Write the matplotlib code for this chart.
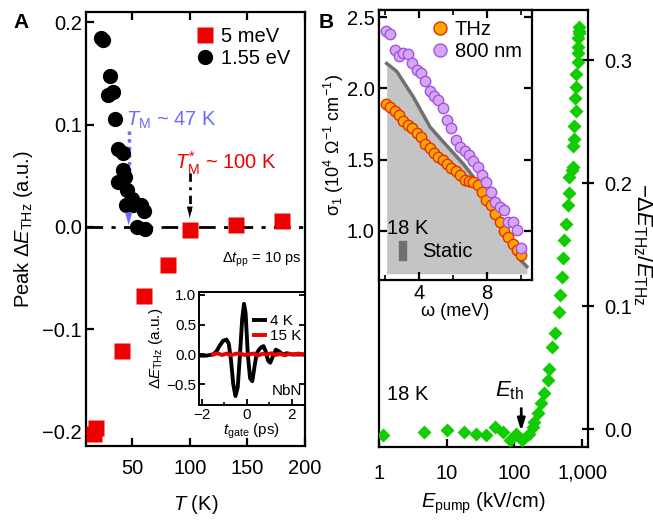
import numpy as np
import matplotlib
matplotlib.use("Agg")
import matplotlib.pyplot as plt
from matplotlib.patches import Patch

plt.rcParams['font.family'] = ['Liberation Sans', 'DejaVu Sans']
plt.rcParams['mathtext.fontset'] = 'custom'
plt.rcParams['mathtext.rm'] = 'Liberation Sans'
plt.rcParams['mathtext.it'] = 'Liberation Sans:italic'
plt.rcParams['mathtext.bf'] = 'Liberation Sans:bold'
plt.rcParams['axes.linewidth'] = 1.6

# ---- panel A data ----
T_ir = [23, 25, 31, 29, 33, 35, 37.6, 42, 42, 37.6, 43.6, 46, 49.6, 45, 50.5, 58, 60, 54, 61]
peak_ir = [0.185, 0.183, 0.147, 0.129, 0.132, 0.105, 0.076, 0.072, 0.056, 0.044, 0.049,
           0.036, 0.027, 0.021, 0.021, 0.021, 0.016, 0.0, -0.002]
T_thz = [17, 19, 41, 60, 81, 100, 140, 180]
peak_thz = [-0.202, -0.196, -0.121, -0.067, -0.037, -0.003, 0.002, 0.006]

# inset A: NbN waveforms
t_4K = [-2.1, -1.8, -1.5, -1.35, -1.2, -1.05, -0.9, -0.8, -0.7, -0.6, -0.5, -0.4, -0.3,
        -0.2, -0.12, -0.05, 0.05, 0.15, 0.25, 0.35, 0.45, 0.55, 0.65, 0.75, 0.85, 0.95,
        1.05, 1.15, 1.3, 1.45, 1.6, 1.8, 2.0, 2.3, 2.5]
dE_4K = [-0.02, -0.02, 0.0, 0.05, 0.15, 0.23, 0.25, 0.18, -0.1, -0.5, -0.7, -0.55, 0.0,
         0.6, 0.85, 0.7, 0.0, -0.4, -0.45, -0.2, 0.02, 0.08, 0.12, 0.14, 0.05, -0.1,
         -0.14, -0.05, 0.08, 0.05, 0.0, 0.02, 0.0, 0.0, 0.0]
t_15K = [-1.5, -1.3, -1.1, -0.9, -0.7, -0.5, -0.3, -0.1, 0.1, 0.3, 0.5, 0.7, 0.9, 1.1,
         1.3, 1.5, 1.7, 1.9, 2.1, 2.3, 2.5]
dE_15K = [0.0, 0.02, -0.01, 0.015, -0.015, 0.01, 0.02, -0.01, 0.0, 0.015, -0.02, 0.01,
          0.0, 0.02, -0.01, 0.01, -0.015, 0.01, 0.0, 0.015, 0.0]

# ---- panel B data ----
E_pump = [1.16, 4.6, 10.1, 18, 27.3, 38.5, 52, 67, 84.7, 106, 130, 162, 190, 196, 220,
          246, 277, 310, 327, 359, 401, 450, 478, 505, 514, 545, 578, 609, 631, 646, 700,
          726, 726, 750, 766, 812, 792, 820, 812, 860, 860, 880, 880, 900, 905, 910]
dE_rel = [-0.005, -0.002, -0.001, -0.002, -0.004, -0.005, 0.002, -0.002, -0.009, -0.004,
          -0.009, -0.004, 0.002, 0.006, 0.013, 0.021, 0.029, 0.040, 0.049, 0.067, 0.078,
          0.095, 0.109, 0.124, 0.139, 0.154, 0.167, 0.182, 0.192, 0.205, 0.211, 0.213,
          0.230, 0.236, 0.247, 0.259, 0.269, 0.278, 0.289, 0.299, 0.306, 0.311, 0.318,
          0.322, 0.324, 0.327]

# inset B: optical conductivity
omega = [2.06, 2.32, 2.57, 2.83, 3.09, 3.34, 3.60, 3.86, 4.12, 4.37, 4.63, 4.89, 5.14,
         5.40, 5.66, 5.91, 6.17, 6.43, 6.69, 6.94, 7.20, 7.46, 7.71, 7.97, 8.23, 8.49,
         8.74, 9.00, 9.26, 9.51, 9.77, 10.03]
sig_thz = [1.89, 1.87, 1.84, 1.81, 1.77, 1.74, 1.72, 1.69, 1.66, 1.61, 1.58, 1.55, 1.52,
           1.50, 1.47, 1.44, 1.42, 1.39, 1.36, 1.35, 1.34, 1.32, 1.27, 1.22, 1.18, 1.12,
           1.06, 1.00, 0.96, 0.91, 0.87, 0.83]
sig_800 = [2.40, 2.38, 2.27, 2.23, 2.25, 2.24, 2.175, 2.13, 2.11, 2.05, 1.98, 1.95, 1.92,
           1.86, 1.78, 1.72, 1.64, 1.59, 1.56, 1.53, 1.49, 1.45, 1.39, 1.34, 1.27, 1.20,
           1.17, 1.15, 1.06, 1.06, 1.01, 0.88]
omega_static = [2.1, 2.69, 3.67, 4.65, 5.24, 6.61, 7.2, 7.79, 8.57, 9.36, 9.94, 10.35]
sig_static = [2.175, 2.12, 1.94, 1.73, 1.65, 1.47, 1.38, 1.26, 1.12, 0.96, 0.80, 0.75]

red = '#ee0000'
blue = '#6b6bff'
green = '#11cc00'
fs = 14.5

fig = plt.figure(figsize=(6.53, 5.2), dpi=100)

# ================= panel A =================
ax = fig.add_axes([0.1317, 0.1423, 0.3354, 0.8346])
ax.axhline(0, color='black', lw=2, dashes=(6, 3, 1.5, 3), zorder=1)
ax.plot(T_thz, peak_thz, 's', color=red, ms=11.5, mec='none', label='5 meV', zorder=3)
ax.plot(T_ir, peak_ir, 'o', color='black', ms=11, mec='none', label='1.55 eV', zorder=3)
ax.set_xlim(10, 200)
ax.set_ylim(-0.214, 0.21)
ax.set_xticks([50, 100, 150, 200])
ax.set_yticks([-0.2, -0.1, 0.0, 0.1, 0.2])
ax.set_yticklabels(['\u22120.2', '\u22120.1', '0.0', '0.1', '0.2'])
ax.tick_params(direction='in', labelsize=fs, length=6, width=1.6, top=True)
ax.tick_params(axis='x', pad=9)
ax.tick_params(axis='y', pad=3)
ax.set_xlabel('$T$ (K)', fontsize=fs, labelpad=11)
ax.set_ylabel('Peak Δ$E_{\\rm THz}$ (a.u.)', fontsize=fs, labelpad=5)
ax.legend(loc='upper right', bbox_to_anchor=(0.97, 0.985), frameon=False, fontsize=fs,
          handlelength=1.0, handletextpad=0.3, labelspacing=0.15, borderaxespad=0,
          numpoints=1)

# T_M arrow (blue, dotted)
ax.plot([47, 47], [0.094, 0.012], ls=(0, (1, 1.2)), color=blue, lw=2.5)
ax.annotate('', xy=(47, -0.001), xytext=(47, 0.014),
            arrowprops=dict(arrowstyle='-|>,head_width=0.25,head_length=0.9',
                            color=blue, lw=0.1))
ax.text(45, 0.104, '$T_{\\rm M}$ ~ 47 K', color=blue, fontsize=fs, va='center')
# T*_M arrow (black, dash-dot)
ax.plot([100, 100], [0.053, 0.016], color='black', lw=2, dashes=(3, 2, 1, 2))
ax.annotate('', xy=(100, 0.006), xytext=(100, 0.018),
            arrowprops=dict(arrowstyle='-|>,head_width=0.2,head_length=0.8',
                            color='black', lw=0.1))
ax.text(87, 0.062, '$T^{*}_{\\rm M}$ ~ 100 K', color=red, fontsize=fs, va='center')
ax.text(0.62, 0.43, 'Δ$t_{\\rm pp}$ = 10 ps', transform=ax.transAxes, fontsize=10.5,
        va='center')

# inset A
axi = fig.add_axes([0.3047, 0.2212, 0.1623, 0.2173])
axi.plot(t_4K, dE_4K, color='black', lw=2.8, label='4 K')
axi.plot(t_15K, dE_15K, color=red, lw=2.8, label='15 K')
axi.set_xlim(-2.13, 2.6)
axi.set_ylim(-0.85, 1.05)
axi.set_xticks([-2, 0, 2])
axi.set_xticklabels(['\u22122', '0', '2'])
axi.set_xticks([-1, 1], minor=True)
axi.set_yticks([-0.5, 0.0, 0.5, 1.0])
axi.set_yticklabels(['\u22120.5', '0.0', '0.5', '1.0'])
axi.tick_params(direction='in', labelsize=11, length=4, width=1.3, right=True, pad=2)
axi.tick_params(which='minor', direction='in', length=2.5, width=1.2)
for s in axi.spines.values():
    s.set_linewidth(1.4)
axi.set_xlabel('$t_{\\rm gate}$ (ps)', fontsize=11, labelpad=0)
axi.set_ylabel('Δ$E_{\\rm THz}$ (a.u.)', fontsize=11, labelpad=1)
axi.legend(loc='upper right', bbox_to_anchor=(1.02, 0.86), frameon=False, fontsize=11,
           handlelength=0.7, handletextpad=0.3, labelspacing=0.1, borderaxespad=0)
axi.text(0.97, 0.06, 'NbN', transform=axi.transAxes, fontsize=11, ha='right',
         va='bottom')

# ================= panel B =================
bx = fig.add_axes([0.5804, 0.1404, 0.3201, 0.8404])
bx.plot(E_pump, dE_rel, 'D', color=green, ms=7, mec='none', zorder=3)
bx.set_xscale('log')
bx.set_xlim(1, 1220)
bx.set_ylim(-0.0146, 0.341)
bx.set_xticks([1, 10, 100, 1000])
bx.set_xticklabels(['1', '10', '100', '1,000'])
bx.yaxis.tick_right()
bx.set_yticks([0.0, 0.1, 0.2, 0.3])
bx.tick_params(direction='in', labelsize=fs, length=6, width=1.6)
bx.tick_params(axis='y', direction='inout', length=9, pad=7)
bx.tick_params(axis='x', pad=12)
bx.tick_params(which='minor', direction='in', length=3.5, width=1.2)
bx.set_xlabel('$E_{\\rm pump}$ (kV/cm)', fontsize=fs, labelpad=6)
bx.text(1.3, 0.028, '18 K', fontsize=fs, va='center')
bx.annotate('', xy=(126, -0.004), xytext=(126, 0.019),
            arrowprops=dict(arrowstyle='-|>,head_width=0.22,head_length=0.7',
                            color='black', lw=2))
bx.text(140, 0.022, '$E_{\\rm th}$', fontsize=16, va='bottom', ha='right')
fig.text(0.966, 0.53, '\u2212Δ$E_{\\rm THz}$/$E_{\\rm THz}$', rotation=-90,
         fontsize=16, ha='left', va='center')

# inset B
bi = fig.add_axes([0.5804, 0.4615, 0.2343, 0.5193])
bi.fill_between(omega_static, 0.70, sig_static, color='#c4c4c4', lw=0)
bi.plot(omega_static, sig_static, color='#707070', lw=2.5)
bi.plot(omega, sig_thz, 'o', color='#ffa500', mec='#e33000', mew=1, ms=7.5, label='THz')
bi.plot(omega, sig_800, 'o', color='#d4a7f4', mec='#a552e0', mew=1, ms=7.5,
        label='800 nm')
bi.set_xlim(1.65, 10.65)
bi.set_ylim(0.656, 2.55)
bi.set_xticks([4, 8])
bi.set_xticks([2, 6, 10], minor=True)
bi.set_yticks([1.0, 1.5, 2.0, 2.5])
bi.tick_params(direction='in', labelsize=fs, length=6, width=1.6, top=True, right=True)
bi.tick_params(axis='y', pad=3)
bi.tick_params(axis='x', pad=3)
bi.tick_params(which='minor', direction='in', length=3.5, width=1.2, top=True)
bi.set_xlabel('ω (meV)', fontsize=13, labelpad=0)
bi.set_ylabel('σ$_1$ (10$^4$ Ω$^{-1}$ cm$^{-1}$)', fontsize=13, labelpad=1)
leg = bi.legend(loc='upper right', bbox_to_anchor=(1.0, 1.0), frameon=False,
                fontsize=fs, handlelength=0.9, handletextpad=0.3, labelspacing=0.15,
                borderaxespad=0.1, numpoints=1, markerscale=1.25)
bi.add_artist(leg)
bi.legend(handles=[Patch(color='#707070', label='Static')], loc='lower left',
          bbox_to_anchor=(0.08, 0.04), frameon=False, fontsize=fs, handlelength=0.35,
          handleheight=1.1, handletextpad=0.8, borderaxespad=0)
bi.text(0.05, 0.19, '18 K', transform=bi.transAxes, fontsize=fs, va='center')

fig.text(0.032, 0.957, 'A', fontsize=15, fontweight='bold', ha='center', va='center')
fig.text(0.500, 0.957, 'B', fontsize=15, fontweight='bold', ha='center', va='center')

fig.savefig('out.png', dpi=100)
